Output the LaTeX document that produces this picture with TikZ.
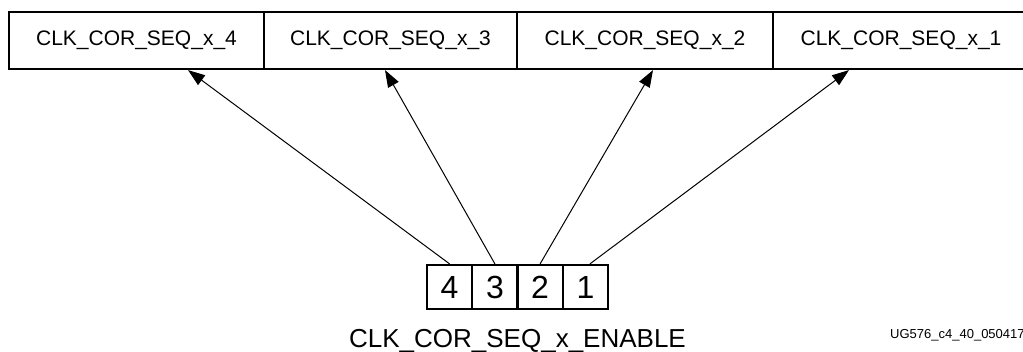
\documentclass[tikz,border=0pt]{standalone}
\usepackage{fontspec}
\setmainfont{Liberation Sans}
\usetikzlibrary{arrows.meta}
\begin{document}
\begin{tikzpicture}[x=1pt,y=-1pt,
  regbox/.style={draw, line width=2.2pt, inner sep=0pt, minimum height=57pt, font=\fontsize{21}{24}\selectfont},
  bitbox/.style={draw, line width=2.2pt, inner sep=0pt, minimum width=45.25pt, minimum height=44pt, font=\fontsize{32}{36}\selectfont},
  selarrow/.style={line width=1pt, -{Triangle[length=17pt,width=12pt]}}]
\useasboundingbox (0,0) rectangle (1023,352);
% registers
\node[regbox, minimum width=255pt] (t4) at (136.5,40.5) {CLK\_COR\_SEQ\_x\_4};
\node[regbox, minimum width=253pt] (t3) at (390.5,40.5) {CLK\_COR\_SEQ\_x\_3};
\node[regbox, minimum width=256pt] (t2) at (645,40.5) {CLK\_COR\_SEQ\_x\_2};
\node[regbox, minimum width=256pt] (t1) at (901,40.5) {CLK\_COR\_SEQ\_x\_1};
% enable bits
\node[bitbox] (b4) at (449.6,287) {4};
\node[bitbox] (b3) at (494.9,287) {3};
\node[bitbox] (b2) at (540.1,287) {2};
\node[bitbox] (b1) at (585.4,287) {1};
\draw[selarrow] (b4.north) -- ([xshift=51.5pt]t4.south);
\draw[selarrow] (b3.north) -- ([xshift=-5.5pt]t3.south);
\draw[selarrow] (b2.north) -- ([xshift=8pt]t2.south);
\draw[selarrow] ([xshift=4.5pt]b1.north) -- ([xshift=-52pt]t1.south);
\node[anchor=base, font=\fontsize{26}{30}\selectfont] (en) at (517.5,348) {CLK\_COR\_SEQ\_x\_ENABLE};
\node[anchor=base west, inner sep=0pt, font=\fontsize{13}{15}\selectfont] (fig) at (890,339) {UG576\_c4\_40\_050417};
\end{tikzpicture}
\end{document}
